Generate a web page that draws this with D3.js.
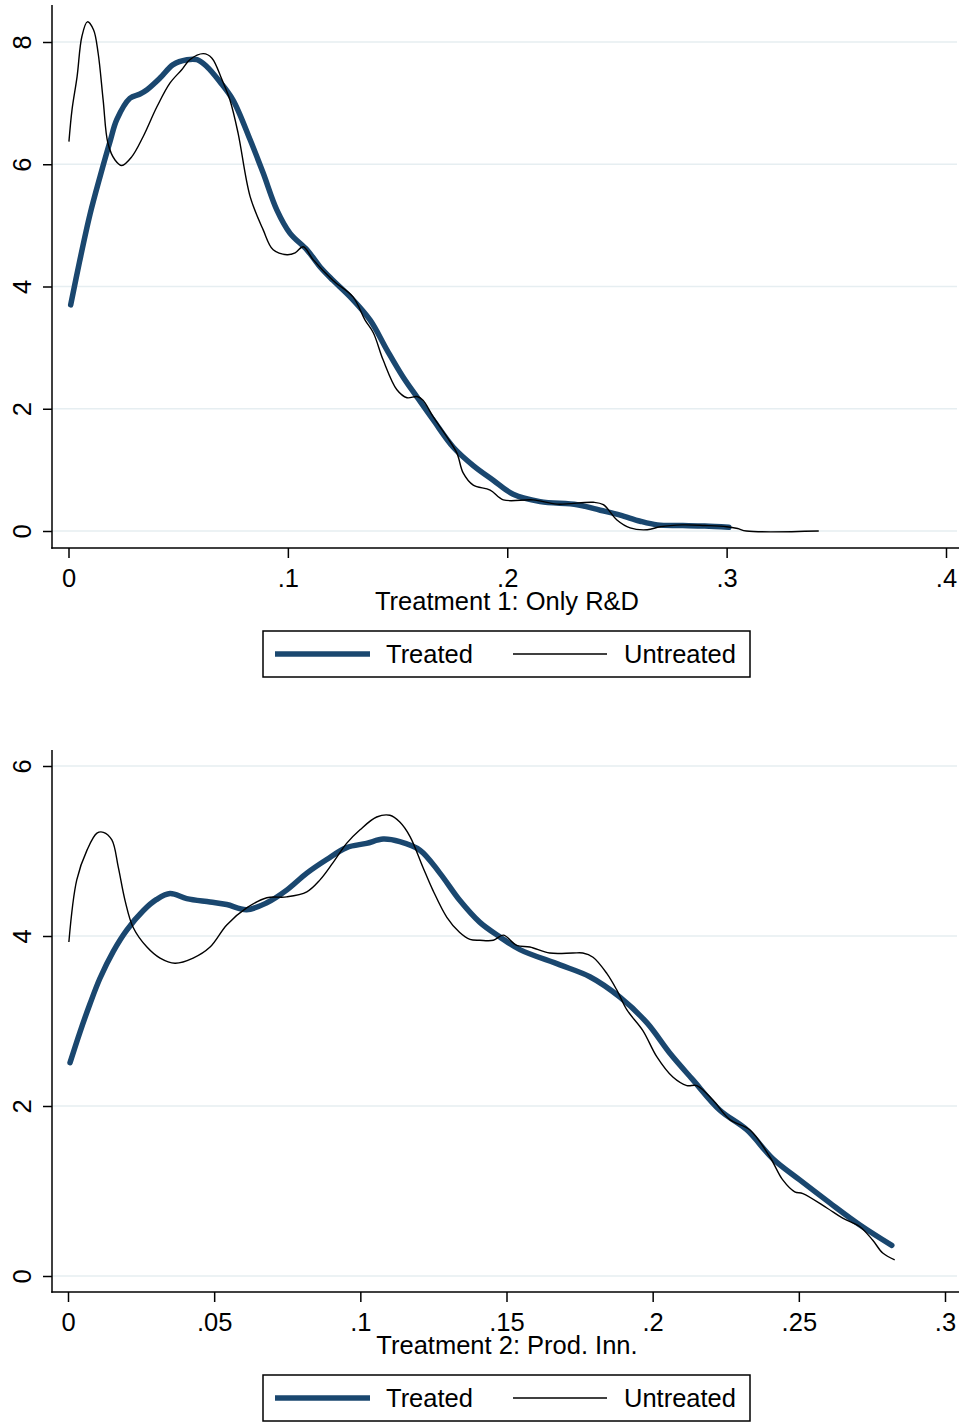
<!DOCTYPE html>
<html>
<head>
<meta charset="utf-8">
<script src="https://cdn.jsdelivr.net/npm/d3@7"></script>
<style>
  body { margin: 0; background: #fff; }
  svg { display: block; }
  text { font-family: "Liberation Sans", Arial, sans-serif; fill: #000; }
</style>
</head>
<body>
<svg id="chart" width="959" height="1422"></svg>
<script>
// Panel 1: Treatment 1, Only R&D
const rdTreatedX = [0.001, 0.005, 0.0098, 0.0144, 0.019, 0.022, 0.028, 0.0326, 0.0358, 0.0417, 0.0477, 0.054, 0.0586, 0.063, 0.069, 0.075, 0.0828, 0.0887, 0.095, 0.101, 0.1087, 0.1147, 0.1206, 0.1284, 0.1375, 0.1452, 0.1525, 0.1589, 0.1662, 0.1754, 0.1845, 0.1936, 0.2027, 0.215, 0.2319, 0.2424, 0.2515, 0.2606, 0.2684, 0.28, 0.29, 0.301];
const rdTreatedY = [3.7, 4.4, 5.18, 5.8, 6.38, 6.73, 7.08, 7.15, 7.22, 7.41, 7.63, 7.71, 7.71, 7.6, 7.35, 7.05, 6.4, 5.86, 5.25, 4.87, 4.6, 4.32, 4.1, 3.83, 3.45, 2.96, 2.52, 2.19, 1.82, 1.37, 1.07, 0.83, 0.6, 0.48, 0.43, 0.34, 0.26, 0.16, 0.1, 0.09, 0.08, 0.06];
const rdUntreatedX = [0.0002, 0.0016, 0.0039, 0.0061, 0.0086, 0.0114, 0.0135, 0.0158, 0.018, 0.0212, 0.0243, 0.0288, 0.034, 0.0403, 0.0463, 0.0517, 0.0553, 0.0615, 0.0653, 0.07, 0.0736, 0.0773, 0.0828, 0.0887, 0.0933, 0.0996, 0.1033, 0.107, 0.1115, 0.1206, 0.1297, 0.1352, 0.139, 0.1434, 0.1497, 0.1543, 0.1589, 0.1616, 0.1662, 0.1725, 0.1771, 0.1799, 0.1845, 0.1922, 0.1982, 0.2118, 0.2227, 0.2392, 0.2438, 0.25, 0.256, 0.2638, 0.2697, 0.28, 0.29, 0.3, 0.305, 0.309, 0.342];
const rdUntreatedY = [6.37, 6.89, 7.43, 8.09, 8.33, 8.2, 7.82, 7.05, 6.34, 6.07, 5.98, 6.12, 6.45, 6.94, 7.33, 7.55, 7.71, 7.81, 7.74, 7.38, 7.05, 6.51, 5.47, 4.93, 4.6, 4.52, 4.55, 4.65, 4.44, 4.1, 3.83, 3.45, 3.24, 2.8, 2.31, 2.18, 2.2, 2.14, 1.87, 1.54, 1.27, 0.95, 0.75, 0.67, 0.51, 0.51, 0.44, 0.47, 0.43, 0.18, 0.05, 0.02, 0.07, 0.1, 0.09, 0.07, 0.04, 0, 0];
const rdXTicks = [0, 0.1, 0.2, 0.3, 0.4];
const rdYTicks = [0, 2, 4, 6, 8];

// Panel 2: Treatment 2, Prod. Inn.
const piTreatedX = [0.0007, 0.0041, 0.0075, 0.0109, 0.0155, 0.0201, 0.0258, 0.0303, 0.0349, 0.0406, 0.0486, 0.0543, 0.0611, 0.068, 0.0748, 0.0817, 0.0885, 0.0953, 0.1021, 0.1078, 0.1135, 0.1204, 0.1272, 0.134, 0.1409, 0.1477, 0.1546, 0.1683, 0.1785, 0.1888, 0.198, 0.2059, 0.2137, 0.223, 0.2322, 0.2411, 0.2503, 0.2606, 0.2709, 0.2818];
const piTreatedY = [2.51, 2.87, 3.2, 3.5, 3.82, 4.07, 4.3, 4.43, 4.5, 4.44, 4.4, 4.37, 4.31, 4.39, 4.54, 4.74, 4.9, 5.04, 5.09, 5.14, 5.11, 5.01, 4.74, 4.42, 4.16, 3.99, 3.84, 3.66, 3.52, 3.28, 2.98, 2.62, 2.31, 1.95, 1.72, 1.38, 1.13, 0.86, 0.6, 0.36];
const piUntreatedX = [0.0003, 0.003, 0.0065, 0.0099, 0.0121, 0.015, 0.0172, 0.0195, 0.0223, 0.027, 0.0315, 0.0366, 0.0428, 0.0486, 0.0543, 0.0611, 0.068, 0.0748, 0.0817, 0.0862, 0.0906, 0.0953, 0.0999, 0.1056, 0.1101, 0.1135, 0.117, 0.1214, 0.1248, 0.1296, 0.134, 0.1375, 0.1409, 0.1455, 0.1489, 0.1535, 0.158, 0.1648, 0.1727, 0.1761, 0.1796, 0.1843, 0.1878, 0.1912, 0.1966, 0.2014, 0.2069, 0.2117, 0.2151, 0.2206, 0.2264, 0.2332, 0.2401, 0.2445, 0.2486, 0.2514, 0.2596, 0.265, 0.2709, 0.2753, 0.2787, 0.2828];
const piUntreatedY = [3.93, 4.66, 5.01, 5.21, 5.22, 5.13, 4.81, 4.42, 4.1, 3.87, 3.74, 3.68, 3.74, 3.87, 4.13, 4.33, 4.45, 4.46, 4.52, 4.66, 4.86, 5.09, 5.25, 5.4, 5.42, 5.34, 5.17, 4.81, 4.54, 4.22, 4.04, 3.96, 3.95, 3.95, 4.01, 3.89, 3.87, 3.8, 3.8, 3.8, 3.75, 3.56, 3.36, 3.13, 2.89, 2.58, 2.34, 2.24, 2.24, 2.07, 1.84, 1.72, 1.4, 1.13, 0.99, 0.97, 0.8, 0.68, 0.58, 0.42, 0.27, 0.19];
const piXTicks = [0, 0.05, 0.1, 0.15, 0.2, 0.25, 0.3];
const piYTicks = [0, 2, 4, 6];

const legendLabels = ["Treated", "Untreated"];
const navy = "#1a476f";
const fontSize = "25.5px";

const svg = d3.select("#chart");

// Stata style tick labels: ".1" instead of "0.1"
function stataFmt(v) {
    if (v === 0) return "0";
    return String(+v.toFixed(3)).replace(/^0\./, ".");
}

function drawPanel(p) {
    const x = d3.scaleLinear().domain([0, p.xTicks[p.xTicks.length - 1]]).range(p.xRange);
    const y = d3.scaleLinear().domain([0, p.yTicks[p.yTicks.length - 1]]).range(p.yRange);
    const g = svg.append("g");

    // grid lines
    g.selectAll(".grid")
        .data(p.yTicks)
        .enter().append("line")
        .attr("x1", p.left).attr("x2", 957)
        .attr("y1", d => y(d)).attr("y2", d => y(d))
        .style("stroke", "#e6eef1")
        .style("stroke-width", 1.6);

    // curves
    const line = d3.line()
        .x(d => x(d[0]))
        .y(d => y(d[1]))
        .curve(d3.curveCatmullRom.alpha(0.5));

    const treated = p.treatedX.map((v, i) => [v, p.treatedY[i]]);
    const untreated = p.untreatedX.map((v, i) => [v, p.untreatedY[i]]);

    g.append("path")
        .datum(treated)
        .attr("d", line)
        .style("fill", "none")
        .style("stroke", navy)
        .style("stroke-width", 5.5)
        .style("stroke-linecap", "round")
        .style("stroke-linejoin", "round");

    g.append("path")
        .datum(untreated)
        .attr("d", line)
        .style("fill", "none")
        .style("stroke", "#000")
        .style("stroke-width", 1.4)
        .style("stroke-linejoin", "round");

    // y axis
    const yAxis = g.append("g")
        .attr("transform", `translate(${p.left},0)`)
        .call(d3.axisLeft(y).tickValues(p.yTicks).tickSize(9).tickSizeOuter(0).tickFormat(stataFmt));
    yAxis.select(".domain").remove();
    yAxis.selectAll(".tick line").style("stroke", "#000").style("stroke-width", 1.5);
    yAxis.selectAll(".tick text")
        .attr("transform", "rotate(-90)")
        .attr("x", 0)
        .attr("y", -21)
        .attr("dy", 0)
        .style("text-anchor", "middle")
        .style("font-size", fontSize)
        .style("font-family", "Liberation Sans, Arial, sans-serif");

    // x axis
    const xAxis = g.append("g")
        .attr("transform", `translate(0,${p.bottom})`)
        .call(d3.axisBottom(x).tickValues(p.xTicks).tickSize(10).tickPadding(11).tickSizeOuter(0).tickFormat(stataFmt));
    xAxis.select(".domain").remove();
    xAxis.selectAll(".tick line").style("stroke", "#000").style("stroke-width", 1.5);
    xAxis.selectAll(".tick text")
        .style("font-size", fontSize)
        .style("font-family", "Liberation Sans, Arial, sans-serif");

    // axis lines
    g.append("line")
        .attr("x1", p.left).attr("x2", p.left)
        .attr("y1", p.top).attr("y2", p.bottom + 0.75)
        .style("stroke", "#000").style("stroke-width", 1.5);
    g.append("line")
        .attr("x1", p.left - 0.75).attr("x2", 959)
        .attr("y1", p.bottom).attr("y2", p.bottom)
        .style("stroke", "#000").style("stroke-width", 1.5);

    // axis title
    g.append("text")
        .attr("x", 507)
        .attr("y", p.bottom + 62)
        .style("text-anchor", "middle")
        .style("font-size", fontSize)
        .text(p.title);

    // legend
    const lg = g.append("g").attr("transform", `translate(263,${p.bottom + 83})`);
    lg.append("rect")
        .attr("width", 487).attr("height", 46)
        .style("fill", "#fff").style("stroke", "#000").style("stroke-width", 1.5);
    lg.append("line")
        .attr("x1", 12).attr("x2", 107).attr("y1", 23).attr("y2", 23)
        .style("stroke", navy).style("stroke-width", 5.5);
    lg.append("text")
        .attr("x", 123).attr("y", 32)
        .style("font-size", fontSize)
        .text(legendLabels[0]);
    lg.append("line")
        .attr("x1", 250).attr("x2", 344).attr("y1", 23).attr("y2", 23)
        .style("stroke", "#000").style("stroke-width", 1.4);
    lg.append("text")
        .attr("x", 361).attr("y", 32)
        .style("font-size", fontSize)
        .text(legendLabels[1]);
}

drawPanel({
    left: 52, top: 5, bottom: 548,
    xRange: [68.5, 946], yRange: [531, 42],
    xTicks: rdXTicks, yTicks: rdYTicks,
    treatedX: rdTreatedX, treatedY: rdTreatedY,
    untreatedX: rdUntreatedX, untreatedY: rdUntreatedY,
    title: "Treatment 1: Only R&D"
});

drawPanel({
    left: 52, top: 750, bottom: 1292,
    xRange: [68, 945], yRange: [1276, 766],
    xTicks: piXTicks, yTicks: piYTicks,
    treatedX: piTreatedX, treatedY: piTreatedY,
    untreatedX: piUntreatedX, untreatedY: piUntreatedY,
    title: "Treatment 2: Prod. Inn."
});
</script>
</body>
</html>
